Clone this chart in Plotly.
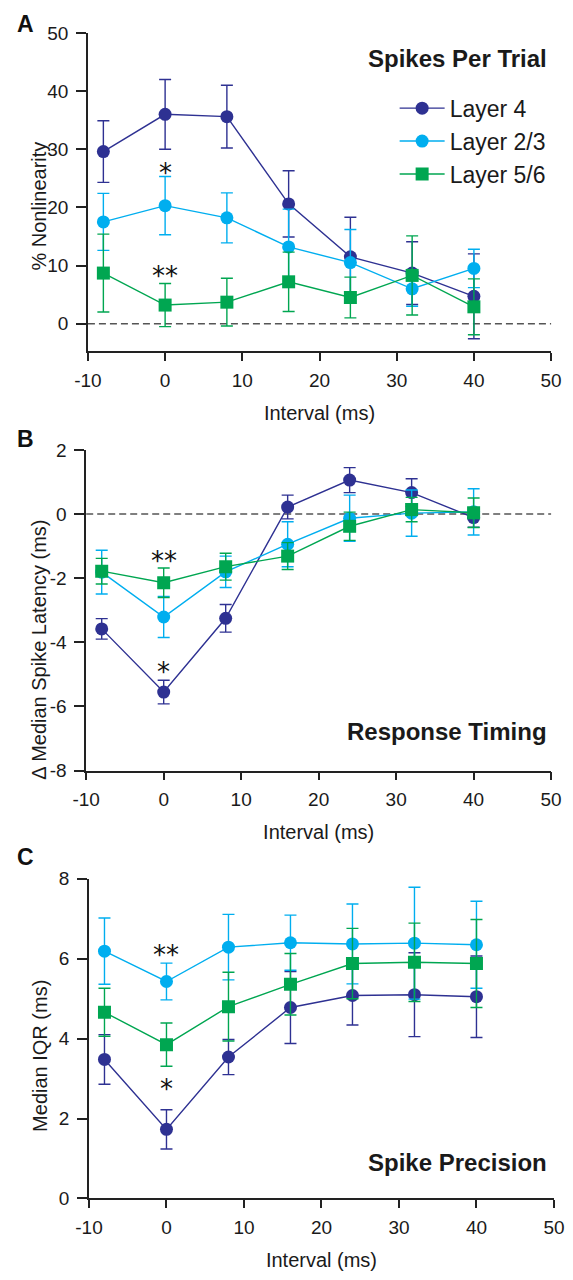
import plotly.graph_objects as go

# ---------------- data ----------------
intervals = [-8, 0, 8, 16, 24, 32, 40]
series_names = ["Layer 4", "Layer 2/3", "Layer 5/6"]

# Panel A: % Nonlinearity (spikes per trial)
a_l4 = [29.6, 36.0, 35.6, 20.6, 11.5, 8.7, 4.7]
a_l4_err = [5.3, 6.0, 5.4, 5.7, 6.8, 5.4, 7.3]
a_l23 = [17.5, 20.3, 18.2, 13.2, 10.5, 6.0, 9.5]
a_l23_err = [4.9, 5.0, 4.3, 6.5, 5.7, 3.0, 3.3]
a_l56 = [8.7, 3.2, 3.7, 7.2, 4.5, 8.3, 2.9]
a_l56_err = [6.7, 3.7, 4.1, 5.1, 3.5, 6.8, 4.8]

# Panel B: delta median spike latency (ms)
b_l4 = [-3.58, -5.55, -3.25, 0.22, 1.06, 0.67, -0.11]
b_l4_err = [0.32, 0.37, 0.43, 0.37, 0.39, 0.43, 0.30]
b_l23 = [-1.81, -3.21, -1.80, -0.94, -0.13, 0.03, 0.07]
b_l23_err = [0.68, 0.64, 0.49, 0.70, 0.72, 0.72, 0.72]
b_l56 = [-1.78, -2.14, -1.64, -1.31, -0.38, 0.14, 0.04]
b_l56_err = [0.40, 0.46, 0.42, 0.42, 0.44, 0.38, 0.46]

# Panel C: median IQR (ms)
c_l4 = [3.48, 1.73, 3.54, 4.78, 5.08, 5.10, 5.05]
c_l4_err = [0.62, 0.49, 0.44, 0.90, 0.74, 1.05, 1.02]
c_l23 = [6.19, 5.43, 6.29, 6.40, 6.37, 6.39, 6.35]
c_l23_err = [0.83, 0.46, 0.82, 0.69, 1.00, 1.40, 1.09]
c_l56 = [4.66, 3.85, 4.80, 5.36, 5.88, 5.91, 5.88]
c_l56_err = [0.60, 0.54, 0.86, 0.77, 0.88, 0.98, 1.10]

x_ticks = [-10, 0, 10, 20, 30, 40, 50]
x_ticktext = ["-10", "0", "10", "20", "30", "40", "50"]
a_yticks = [0, 10, 20, 30, 40, 50]
b_yticks = [-8, -6, -4, -2, 0, 2]
c_yticks = [0, 2, 4, 6, 8]

# significance markers: (x, y, text) per panel
a_sig = [(0, 26.9, "*"), (0, 9.25, "**")]
b_sig = [(0, -1.28, "**"), (0, -4.74, "*")]
c_sig = [(0, 6.25, "**"), (0, 2.90, "*")]

# ---------------- style ----------------
W, H = 573, 1280
colors = ["#2E3192", "#00AEEF", "#00A651"]
symbols = ["circle", "circle", "square"]
msizes = [13, 13, 13]
FONT = "Liberation Sans, Arial, sans-serif"
AX = "#222222"
TXT = "#1a1a1a"


def px_x(p):
    return p / W


def px_y(p):
    return 1 - p / H


panels = [
    dict(data=[(a_l4, a_l4_err), (a_l23, a_l23_err), (a_l56, a_l56_err)],
         xdom=[px_x(77.3), px_x(561.6)], ydom=[px_y(346.7), px_y(23.3)],
         yrange=[-4.7, 50], yticks=a_yticks, zero=True, sig=a_sig,
         letter="A", letter_y=14.5, title="Spikes Per Trial", title_y=49,
         ytitle="% Nonlinearity", ytitle_y=199.5),
    dict(data=[(b_l4, b_l4_err), (b_l23, b_l23_err), (b_l56, b_l56_err)],
         xdom=[px_x(75.5), px_x(561.6)], ydom=[px_y(773.3), px_y(447.3)],
         yrange=[-8, 2], yticks=b_yticks, zero=True, sig=b_sig,
         letter="B", letter_y=436, title="Response Timing", title_y=734,
         ytitle="Δ Median Spike Latency (ms)", ytitle_y=650),
    dict(data=[(c_l4, c_l4_err), (c_l23, c_l23_err), (c_l56, c_l56_err)],
         xdom=[px_x(78.4), px_x(564.6)], ydom=[px_y(1208.3), px_y(883.3)],
         yrange=[0, 8], yticks=c_yticks, zero=False, sig=c_sig,
         letter="C", letter_y=861, title="Spike Precision", title_y=1172,
         ytitle="Median IQR (ms)", ytitle_y=1063),
]

fig = go.Figure()
layout = dict(
    width=W, height=H,
    margin=dict(l=0, r=0, t=0, b=0),
    paper_bgcolor="white", plot_bgcolor="white",
    font=dict(family=FONT, size=19, color=TXT),
    showlegend=True,
    legend=dict(x=px_x(398), y=px_y(78), xanchor="left", yanchor="top",
                bgcolor="rgba(0,0,0,0)", font=dict(size=23, color=TXT),
                itemwidth=45, tracegroupgap=0),
)
annotations = []
shapes = []

for i, p in enumerate(panels):
    n = "" if i == 0 else str(i + 1)
    xa, ya = "x" + n, "y" + n
    for k, (vals, errs) in enumerate(p["data"]):
        fig.add_trace(go.Scatter(
            x=intervals, y=vals, xaxis=xa, yaxis=ya,
            mode="lines+markers", name=series_names[k],
            legendgroup=series_names[k], showlegend=(i == 0),
            line=dict(color=colors[k], width=1.4),
            marker=dict(color=colors[k], size=msizes[k], symbol=symbols[k],
                        line=dict(width=0)),
            error_y=dict(type="data", array=errs, visible=True,
                         color=colors[k], thickness=1.4, width=6),
        ))
    layout["xaxis" + n] = dict(
        domain=p["xdom"], anchor=ya, range=[-10, 50],
        tickvals=x_ticks, ticktext=x_ticktext,
        showgrid=False, zeroline=False, showline=True, linecolor=AX,
        linewidth=1.5, ticks="outside", ticklen=8, tickwidth=1.5,
        tickcolor=AX, ticklabelstandoff=3,
        tickfont=dict(size=19, color=TXT),
        title=dict(text="Interval (ms)", font=dict(size=20, color=TXT),
                   standoff=16),
    )
    layout["yaxis" + n] = dict(
        domain=p["ydom"], anchor=xa, range=p["yrange"],
        tickvals=p["yticks"], ticktext=[str(v) for v in p["yticks"]],
        showgrid=False, zeroline=False, showline=True, linecolor=AX,
        linewidth=1.5, ticks="outside", ticklen=10, tickwidth=1.5,
        tickcolor=AX, ticklabelstandoff=4,
        tickfont=dict(size=19, color=TXT),
    )
    if p["zero"]:
        shapes.append(dict(type="line", xref=xa + " domain", yref=ya,
                           x0=0, x1=1, y0=0, y1=0, layer="below",
                           line=dict(color="#555555", width=1.5, dash="7px,4px")))
    for (sx, sy, st) in p["sig"]:
        annotations.append(dict(x=sx, y=sy, xref=xa, yref=ya, text=st,
                                showarrow=False, yshift=-6,
                                font=dict(family="DejaVu Sans", size=26,
                                          color="#111111")))
    annotations.append(dict(x=px_x(1), y=px_y(p["letter_y"]), xref="paper",
                            yref="paper", text="<b>%s</b>" % p["letter"],
                            showarrow=False, xanchor="left", yanchor="middle",
                            font=dict(size=23, color="#111111")))
    annotations.append(dict(x=px_x(559), y=px_y(p["title_y"]), xref="paper",
                            yref="paper", text="<b>%s</b>" % p["title"],
                            showarrow=False, xanchor="right", yanchor="middle",
                            font=dict(size=24, color=TXT)))
    annotations.append(dict(x=px_x(26.5), y=px_y(p["ytitle_y"]), xref="paper",
                            yref="paper", text=p["ytitle"], textangle=-90,
                            showarrow=False, xanchor="center", yanchor="middle",
                            font=dict(size=20, color=TXT)))

layout["annotations"] = annotations
layout["shapes"] = shapes
fig.update_layout(**layout)
fig.write_html("out.html",
               config={"displayModeBar": False},
               post_script="document.body.style.margin='0';"
                           "document.body.style.overflow='hidden';")
